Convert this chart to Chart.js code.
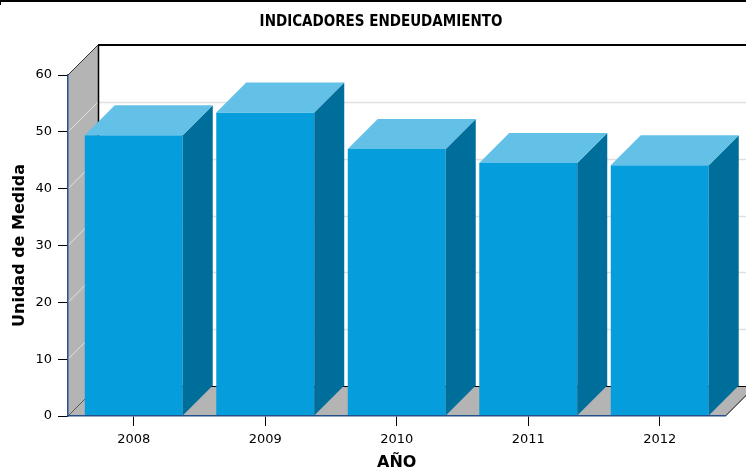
<!DOCTYPE html>
<html>
<head>
<meta charset="utf-8">
<script src="https://cdn.jsdelivr.net/npm/chart.js@4"></script>
<style>
  html, body { margin: 0; background: #fff; }
  canvas { display: block; }
</style>
</head>
<body>
<canvas id="chart" width="746" height="470"></canvas>
<script>
// data
const years = ['2008', '2009', '2010', '2011', '2012'];
const values = [49.4, 53.4, 47.0, 44.5, 44.1];
const yTicks = [0, 10, 20, 30, 40, 50, 60];
const chartTitle = 'INDICADORES ENDEUDAMIENTO';

const DEPTH = 30;
const frontColor = '#059ddb';
const topColor = '#63c0e6';
const sideColor = '#006e9b';
const wallColor = '#b4b4b4';

function line(ctx, x1, y1, x2, y2, color, w) {
    ctx.beginPath();
    ctx.moveTo(x1, y1);
    ctx.lineTo(x2, y2);
    ctx.strokeStyle = color;
    ctx.lineWidth = w;
    ctx.stroke();
}

function poly(ctx, pts, color) {
    ctx.beginPath();
    ctx.moveTo(pts[0][0], pts[0][1]);
    pts.slice(1).forEach(p => ctx.lineTo(p[0], p[1]));
    ctx.closePath();
    ctx.fillStyle = color;
    ctx.fill();
}

const box3d = {
    id: 'box3d',
    beforeDraw(chart) {
        const { ctx, chartArea: a, scales: { y } } = chart;
        const D = DEPTH;
        ctx.save();
        ctx.fillStyle = '#fff';
        ctx.fillRect(0, 0, chart.width, chart.height);

        // back wall grid
        yTicks.forEach(v => {
            if (v === 0 || v === 60) return;
            const py = Math.round(y.getPixelForValue(v) - D) + 0.5;
            line(ctx, a.left + D, py, a.right + D, py, '#e0e0e0', 1.5);
        });

        // left wall
        poly(ctx, [[a.left, a.top], [a.left + D, a.top - D], [a.left + D, a.bottom - D], [a.left, a.bottom]], wallColor);
        yTicks.forEach(v => {
            const py = y.getPixelForValue(v);
            const c = v === 0 ? '#000' : (v === 60 ? '#333' : '#e2e2e2');
            line(ctx, a.left, py, a.left + D, py - D, c, 1);
        });

        // floor
        poly(ctx, [[a.left, a.bottom], [a.right, a.bottom], [a.right + D, a.bottom - D], [a.left + D, a.bottom - D]], wallColor);
        line(ctx, a.left + D, a.bottom - D + 0.5, a.right + D, a.bottom - D + 0.5, '#000', 1);
        line(ctx, a.right, a.bottom, a.right + D, a.bottom - D, '#000', 1);

        // back frame
        line(ctx, a.left + D, a.top - D, a.right + D, a.top - D, '#000', 2);
        line(ctx, a.left + D + 0.5, a.top - D, a.left + D + 0.5, a.bottom - D, '#000', 1.5);
        ctx.restore();
    },
    afterDatasetsDraw(chart) {
        const { ctx } = chart;
        const D = DEPTH;
        ctx.save();
        chart.getDatasetMeta(0).data.forEach(bar => {
            const { x, y, base, width } = bar.getProps(['x', 'y', 'base', 'width'], true);
            const l = x - width / 2, r = x + width / 2;
            poly(ctx, [[r, y], [r + D, y - D], [r + D, base - D], [r, base]], sideColor);
            poly(ctx, [[l, y], [l + D, y - D], [r + D, y - D], [r, y]], topColor);
        });
        ctx.restore();
    },
    afterDraw(chart) {
        const { ctx } = chart;
        ctx.save();
        line(ctx, 0, 1, chart.width, 1, '#000', 2);
        line(ctx, 0.5, 0, 0.5, 5, '#000', 1);
        ctx.fillStyle = '#000';
        ctx.font = 'bold 15px "DejaVu Sans Condensed"';
        ctx.textAlign = 'center';
        ctx.textBaseline = 'middle';
        ctx.fillText(chartTitle, 381, 22);
        ctx.restore();
    }
};

new Chart(document.getElementById('chart'), {
    type: 'bar',
    data: {
        labels: years,
        datasets: [{
            data: values,
            backgroundColor: frontColor,
            borderWidth: 0,
            barPercentage: 0.745,
            categoryPercentage: 1
        }]
    },
    options: {
        responsive: false,
        animation: false,
        layout: { padding: { top: 75, right: 20.5, left: 0, bottom: 0 } },
        plugins: { legend: { display: false }, tooltip: { enabled: false } },
        scales: {
            x: {
                offset: true,
                grid: { offset: false, drawOnChartArea: false, tickLength: 10, color: '#000' },
                border: { color: '#24518a', width: 1.5, z: 1 },
                ticks: { color: '#000', font: { family: 'DejaVu Sans', size: 13 }, padding: 6, maxRotation: 0 },
                title: {
                    display: true, text: 'AÑO', color: '#000',
                    font: { family: 'DejaVu Sans', weight: 'bold', size: 16 },
                    padding: { top: 0, bottom: -2 }
                },
                afterFit(s) { s.height = 54; }
            },
            y: {
                min: 0,
                max: 60,
                afterBuildTicks(s) { s.ticks = yTicks.map(v => ({ value: v })); },
                grid: { drawOnChartArea: false, tickLength: 10, color: '#000' },
                border: { color: '#24518a', width: 1.5, z: 1 },
                ticks: { color: '#000', font: { family: 'DejaVu Sans', size: 13 }, padding: 6 },
                title: {
                    display: true, text: 'Unidad de Medida', color: '#000',
                    font: { family: 'DejaVu Sans', weight: 'bold', size: 16 },
                    padding: { top: 10, bottom: 0 }
                },
                afterFit(s) { s.width = 68; }
            }
        }
    },
    plugins: [box3d]
});
</script>
</body>
</html>
